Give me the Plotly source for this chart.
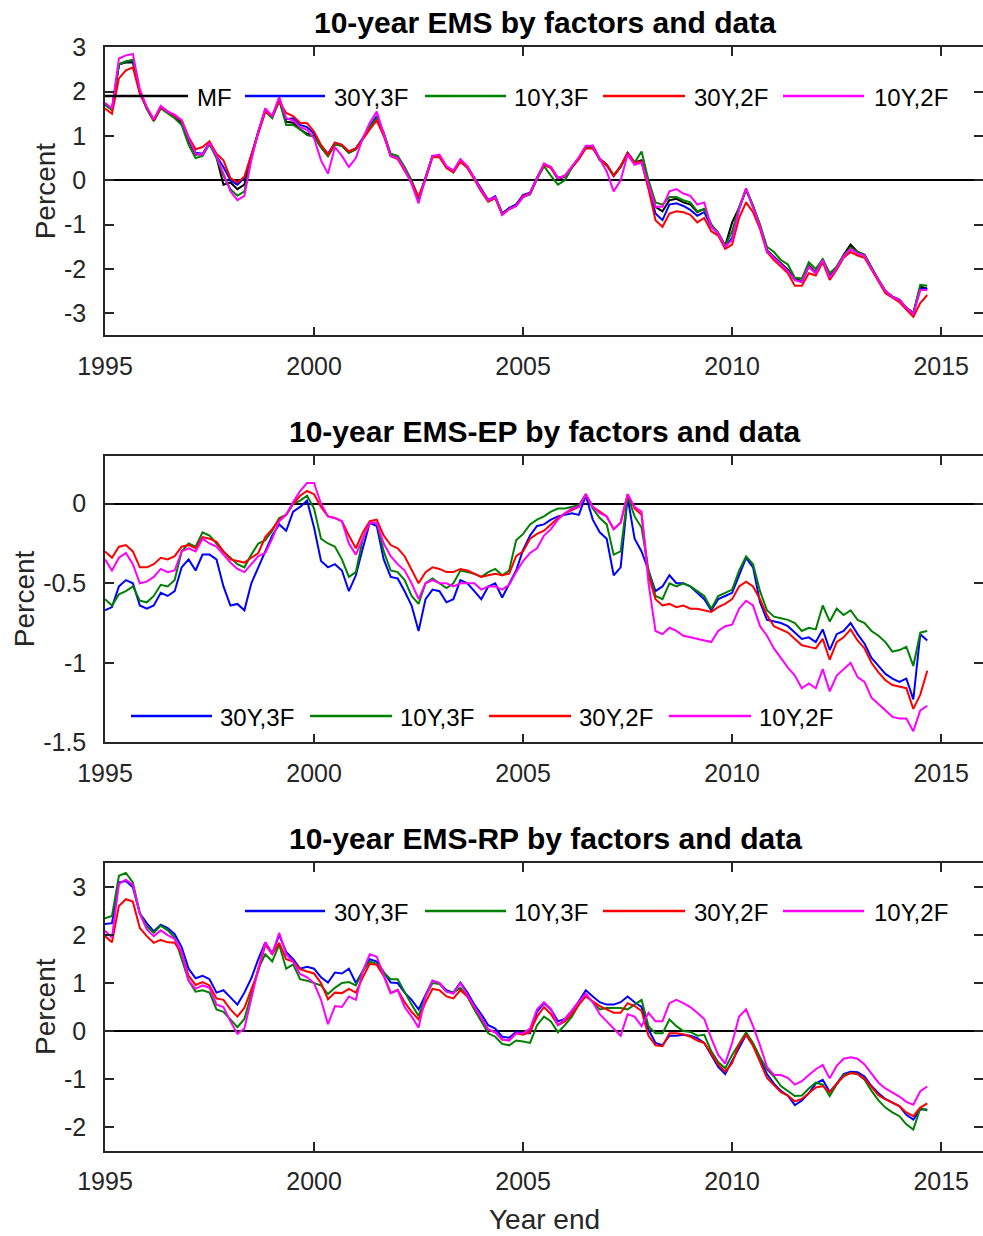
import plotly.graph_objects as go

W, H = 983, 1236

# Decimal-year sample dates, every two months from Jan 1995 to Sep 2014
T = [1995 + k / 6 for k in range(119)]

# ---------- 10-year EMS ----------
ems_mf = [1.72, 1.60, 2.62, 2.66, 2.66, 2.00,
          1.62, 1.35, 1.65, 1.55, 1.45, 1.30,
          0.90, 0.58, 0.58, 0.83, 0.52, -0.10,
          -0.05, -0.20, -0.10, 0.55, 1.10, 1.58,
          1.43, 1.82, 1.32, 1.30, 1.15, 1.05,
          1.00, 0.75, 0.55, 0.82, 0.78, 0.62,
          0.70, 0.95, 1.20, 1.42, 1.05, 0.55,
          0.50, 0.28, -0.05, -0.42, 0.05, 0.55,
          0.55, 0.30, 0.20, 0.45, 0.30, 0.05,
          -0.22, -0.45, -0.38, -0.75, -0.63, -0.55,
          -0.35, -0.30, 0.05, 0.35, 0.28, 0.03,
          0.08, 0.30, 0.50, 0.75, 0.75, 0.48,
          0.35, 0.10, 0.30, 0.62, 0.40, 0.45,
          -0.12, -0.60, -0.70, -0.45, -0.42, -0.50,
          -0.55, -0.72, -0.65, -1.00, -1.20, -1.48,
          -0.95, -0.62, -0.20, -0.58, -1.02, -1.58,
          -1.72, -1.88, -2.02, -2.22, -2.28, -1.92,
          -2.08, -1.78, -2.18, -1.96, -1.68, -1.45,
          -1.62, -1.68, -1.98, -2.25, -2.50, -2.63,
          -2.70, -2.88, -3.00, -2.40, -2.45]
ems_30y3f = [1.72, 1.60, 2.62, 2.68, 2.70, 2.00,
             1.63, 1.35, 1.65, 1.55, 1.45, 1.35,
             0.95, 0.62, 0.60, 0.85, 0.55, 0.30,
             0.00, -0.10, 0.05, 0.58, 1.12, 1.60,
             1.45, 1.85, 1.38, 1.40, 1.25, 1.20,
             1.05, 0.78, 0.60, 0.85, 0.80, 0.65,
             0.72, 0.95, 1.22, 1.45, 1.05, 0.55,
             0.50, 0.25, -0.05, -0.42, 0.05, 0.55,
             0.55, 0.30, 0.20, 0.45, 0.30, 0.05,
             -0.22, -0.45, -0.36, -0.75, -0.63, -0.55,
             -0.33, -0.28, 0.05, 0.35, 0.30, 0.05,
             0.10, 0.30, 0.50, 0.75, 0.78, 0.48,
             0.35, 0.10, 0.32, 0.62, 0.40, 0.42,
             -0.15, -0.75, -0.90, -0.55, -0.52, -0.58,
             -0.67, -0.80, -0.72, -1.05, -1.20, -1.50,
             -1.30, -0.65, -0.20, -0.60, -1.05, -1.60,
             -1.75, -1.90, -2.05, -2.25, -2.30, -1.95,
             -2.10, -1.80, -2.20, -1.98, -1.72, -1.55,
             -1.65, -1.70, -2.00, -2.25, -2.50, -2.63,
             -2.70, -2.88, -3.00, -2.45, -2.45]
ems_10y3f = [1.70, 1.58, 2.62, 2.68, 2.72, 2.00,
             1.60, 1.33, 1.62, 1.50, 1.40, 1.25,
             0.80, 0.50, 0.55, 0.82, 0.50, 0.10,
             -0.20, -0.35, -0.25, 0.50, 1.08, 1.55,
             1.40, 1.80, 1.25, 1.25, 1.15, 1.02,
             0.98, 0.75, 0.55, 0.80, 0.78, 0.62,
             0.70, 0.95, 1.20, 1.40, 1.08, 0.60,
             0.55, 0.30, 0.00, -0.40, 0.08, 0.55,
             0.55, 0.28, 0.18, 0.45, 0.30, 0.05,
             -0.25, -0.48, -0.40, -0.75, -0.65, -0.58,
             -0.38, -0.32, 0.02, 0.32, 0.10, -0.10,
             0.00, 0.28, 0.48, 0.75, 0.75, 0.45,
             0.33, 0.12, 0.30, 0.58, 0.40, 0.65,
             0.00, -0.50, -0.55, -0.38, -0.38, -0.45,
             -0.50, -0.70, -0.65, -1.00, -1.18, -1.48,
             -1.15, -0.60, -0.22, -0.58, -1.00, -1.50,
             -1.62, -1.80, -1.90, -2.20, -2.22, -1.85,
             -2.00, -1.78, -2.10, -1.95, -1.70, -1.52,
             -1.62, -1.68, -1.98, -2.25, -2.50, -2.63,
             -2.70, -2.88, -3.00, -2.36, -2.38]
ems_30y2f = [1.62, 1.50, 2.30, 2.48, 2.55, 1.95,
             1.65, 1.35, 1.65, 1.55, 1.45, 1.35,
             0.98, 0.70, 0.75, 0.88, 0.60, 0.45,
             0.05, -0.05, 0.08, 0.58, 1.10, 1.55,
             1.45, 1.78, 1.52, 1.45, 1.30, 1.29,
             1.10, 0.80, 0.58, 0.85, 0.80, 0.65,
             0.72, 0.92, 1.15, 1.35, 1.00, 0.55,
             0.48, 0.22, -0.05, -0.37, 0.02, 0.52,
             0.52, 0.28, 0.18, 0.42, 0.28, 0.02,
             -0.25, -0.48, -0.40, -0.78, -0.65, -0.58,
             -0.35, -0.30, 0.05, 0.35, 0.28, 0.05,
             0.10, 0.30, 0.48, 0.72, 0.72, 0.48,
             0.35, 0.10, 0.32, 0.62, 0.40, 0.42,
             -0.20, -0.90, -1.05, -0.75, -0.70, -0.72,
             -0.78, -0.95, -0.85, -1.15, -1.25, -1.55,
             -1.45, -0.85, -0.50, -0.72, -1.10, -1.62,
             -1.80, -1.95, -2.10, -2.38, -2.38, -2.10,
             -2.15, -1.85, -2.25, -2.02, -1.75, -1.62,
             -1.70, -1.75, -2.02, -2.30, -2.55, -2.65,
             -2.75, -2.92, -3.08, -2.77, -2.59]
ems_10y2f = [1.75, 1.62, 2.75, 2.82, 2.85, 2.05,
             1.65, 1.38, 1.68, 1.55, 1.48, 1.35,
             0.95, 0.60, 0.58, 0.85, 0.55, 0.15,
             -0.25, -0.45, -0.35, 0.45, 1.10, 1.62,
             1.45, 1.88, 1.40, 1.35, 1.20, 1.14,
             0.95, 0.45, 0.15, 0.75, 0.55, 0.30,
             0.50, 0.95, 1.30, 1.55, 1.05, 0.55,
             0.50, 0.25, -0.08, -0.52, 0.05, 0.55,
             0.58, 0.32, 0.22, 0.48, 0.32, 0.05,
             -0.22, -0.45, -0.38, -0.78, -0.65, -0.58,
             -0.38, -0.30, 0.05, 0.38, 0.30, 0.05,
             0.10, 0.30, 0.52, 0.78, 0.78, 0.48,
             0.20, -0.25, 0.00, 0.58, 0.35, 0.40,
             -0.10, -0.60, -0.60, -0.25, -0.20, -0.30,
             -0.35, -0.55, -0.50, -1.05, -1.20, -1.50,
             -1.35, -0.65, -0.18, -0.60, -1.05, -1.60,
             -1.75, -1.90, -2.05, -2.25, -2.30, -1.95,
             -2.10, -1.80, -2.20, -1.98, -1.72, -1.55,
             -1.65, -1.70, -2.00, -2.25, -2.50, -2.63,
             -2.70, -2.88, -3.02, -2.48, -2.48]

# ---------- 10-year EMS-EP ----------
ep_30y3f = [-0.67, -0.65, -0.52, -0.48, -0.50, -0.64,
            -0.66, -0.64, -0.56, -0.58, -0.55, -0.40,
            -0.35, -0.42, -0.32, -0.32, -0.35, -0.52,
            -0.64, -0.63, -0.67, -0.50, -0.40, -0.30,
            -0.20, -0.13, -0.17, -0.05, -0.02, 0.02,
            -0.15, -0.36, -0.40, -0.38, -0.42, -0.55,
            -0.45, -0.28, -0.12, -0.14, -0.35, -0.46,
            -0.47, -0.55, -0.64, -0.80, -0.60, -0.54,
            -0.55, -0.62, -0.60, -0.48, -0.50, -0.55,
            -0.60, -0.52, -0.50, -0.59, -0.50, -0.42,
            -0.29, -0.20, -0.14, -0.13, -0.10, -0.08,
            -0.07, -0.06, -0.07, 0.05, -0.10, -0.18,
            -0.22, -0.45, -0.40, 0.04, -0.22, -0.30,
            -0.42, -0.55, -0.52, -0.45, -0.50, -0.50,
            -0.52, -0.56, -0.60, -0.67, -0.60, -0.58,
            -0.56, -0.45, -0.34, -0.40, -0.62, -0.73,
            -0.74, -0.75, -0.77, -0.81, -0.85, -0.84,
            -0.87, -0.79, -0.92, -0.82, -0.80, -0.75,
            -0.82, -0.88, -0.97, -1.02, -1.07, -1.10,
            -1.12, -1.10, -1.23, -0.82, -0.86]
ep_10y3f = [-0.60, -0.64, -0.57, -0.55, -0.52, -0.61,
            -0.62, -0.58, -0.51, -0.52, -0.48, -0.30,
            -0.25, -0.27, -0.18, -0.20, -0.25, -0.30,
            -0.34, -0.38, -0.40, -0.32, -0.25, -0.23,
            -0.17, -0.09, -0.07, 0.00, 0.02, 0.05,
            -0.03, -0.22, -0.25, -0.27, -0.35, -0.46,
            -0.43, -0.22, -0.12, -0.12, -0.30, -0.42,
            -0.43, -0.48, -0.58, -0.63, -0.50, -0.47,
            -0.50, -0.53, -0.50, -0.42, -0.43, -0.44,
            -0.46, -0.43, -0.41, -0.45, -0.42, -0.23,
            -0.19, -0.13, -0.10, -0.08, -0.05, -0.03,
            -0.03, -0.02, -0.01, 0.06, -0.03, -0.09,
            -0.13, -0.32, -0.30, 0.05, -0.08, -0.15,
            -0.42, -0.58, -0.60, -0.50, -0.52, -0.50,
            -0.52, -0.55, -0.58, -0.66, -0.58, -0.56,
            -0.54, -0.42, -0.33, -0.38, -0.55, -0.67,
            -0.71, -0.72, -0.73, -0.75, -0.80, -0.78,
            -0.79, -0.64, -0.74, -0.66, -0.70, -0.67,
            -0.73, -0.75, -0.80, -0.83, -0.87, -0.93,
            -0.92, -0.90, -1.02, -0.81, -0.80]
ep_30y2f = [-0.30, -0.34, -0.27, -0.26, -0.30, -0.40,
            -0.40, -0.38, -0.34, -0.35, -0.33, -0.27,
            -0.26, -0.28, -0.21, -0.22, -0.24, -0.30,
            -0.35, -0.36, -0.37, -0.34, -0.31, -0.21,
            -0.16, -0.10, -0.07, 0.00, 0.05, 0.08,
            0.06, -0.02, -0.08, -0.09, -0.11, -0.20,
            -0.28, -0.18, -0.11, -0.10, -0.20, -0.26,
            -0.28, -0.33, -0.42, -0.50, -0.43, -0.40,
            -0.41, -0.43, -0.43, -0.41, -0.42, -0.44,
            -0.46, -0.45, -0.44, -0.45, -0.44, -0.33,
            -0.30, -0.22, -0.19, -0.17, -0.13, -0.09,
            -0.06, -0.04, -0.02, 0.06, -0.02, -0.05,
            -0.08, -0.16, -0.12, 0.06, -0.03, -0.07,
            -0.45, -0.60, -0.64, -0.63, -0.65, -0.64,
            -0.66, -0.66, -0.67, -0.68, -0.65, -0.63,
            -0.60, -0.52, -0.49, -0.52, -0.60, -0.70,
            -0.77, -0.79, -0.81, -0.85, -0.89, -0.90,
            -0.91, -0.85, -0.98, -0.87, -0.84, -0.79,
            -0.86, -0.91, -1.00, -1.06, -1.11, -1.14,
            -1.15, -1.16, -1.29, -1.20, -1.05]
ep_10y2f = [-0.35, -0.42, -0.34, -0.31, -0.38, -0.50,
            -0.49, -0.46, -0.41, -0.43, -0.42, -0.30,
            -0.28, -0.30, -0.22, -0.25, -0.27, -0.32,
            -0.37, -0.41, -0.43, -0.38, -0.33, -0.31,
            -0.22, -0.11, -0.07, 0.01, 0.08, 0.13,
            0.13, 0.00, -0.08, -0.09, -0.11, -0.25,
            -0.32, -0.22, -0.12, -0.12, -0.25, -0.33,
            -0.38, -0.42, -0.50, -0.60, -0.50, -0.48,
            -0.50, -0.50, -0.52, -0.50, -0.50, -0.50,
            -0.54, -0.52, -0.52, -0.54, -0.51, -0.43,
            -0.36, -0.31, -0.28, -0.20, -0.16, -0.10,
            -0.06, -0.03, -0.02, 0.06, -0.02, -0.06,
            -0.08, -0.16, -0.12, 0.06, -0.02, -0.05,
            -0.50, -0.80, -0.82, -0.78, -0.80, -0.83,
            -0.84, -0.85, -0.86, -0.87, -0.80, -0.77,
            -0.76, -0.66, -0.61, -0.64, -0.77, -0.83,
            -0.91, -0.97, -1.03, -1.08, -1.16, -1.13,
            -1.16, -1.04, -1.18, -1.08, -1.04, -1.00,
            -1.09, -1.12, -1.22, -1.26, -1.30, -1.34,
            -1.35, -1.35, -1.43, -1.30, -1.27]

# ---------- 10-year EMS-RP ----------
rp_30y3f = [2.23, 2.25, 3.10, 3.13, 3.00, 2.45,
            2.25, 2.08, 2.22, 2.15, 2.02, 1.75,
            1.30, 1.10, 1.15, 1.08, 0.80, 0.85,
            0.70, 0.55, 0.80, 1.10, 1.50, 1.85,
            1.62, 2.00, 1.65, 1.50, 1.30, 1.34,
            1.30, 1.12, 1.01, 1.22, 1.20, 1.30,
            1.00, 1.25, 1.50, 1.45, 1.22, 1.01,
            1.00, 0.80, 0.65, 0.45, 0.75, 1.05,
            1.00, 0.85, 0.80, 1.01, 0.80, 0.55,
            0.35, 0.12, 0.05, -0.12, -0.14, -0.02,
            -0.05, -0.05, 0.40, 0.58, 0.45, 0.20,
            0.25, 0.42, 0.62, 0.85, 0.72, 0.60,
            0.55, 0.55, 0.60, 0.72, 0.60, 0.50,
            0.03, -0.25, -0.30, -0.10, -0.10, -0.08,
            -0.10, -0.15, -0.25, -0.50, -0.75, -0.90,
            -0.63, -0.33, -0.08, -0.30, -0.60, -0.90,
            -1.10, -1.25, -1.35, -1.55, -1.45, -1.30,
            -1.10, -1.02, -1.27, -1.10, -0.90, -0.85,
            -0.86, -0.95, -1.15, -1.30, -1.42, -1.50,
            -1.57, -1.75, -1.85, -1.64, -1.64]
rp_10y3f = [2.35, 2.40, 3.24, 3.30, 3.10, 2.45,
            2.18, 2.05, 2.20, 2.10, 1.95, 1.50,
            1.05, 0.82, 0.85, 0.80, 0.45, 0.40,
            0.25, 0.08, 0.25, 0.75, 1.30, 1.60,
            1.45, 1.80, 1.30, 1.39, 1.08, 1.05,
            1.00, 0.95, 0.77, 0.90, 1.00, 1.02,
            0.95, 1.25, 1.45, 1.40, 1.22, 1.08,
            1.08, 0.80, 0.55, 0.31, 0.72, 1.00,
            0.98, 0.82, 0.80, 0.90, 0.72, 0.45,
            0.20, -0.05, -0.12, -0.27, -0.30, -0.20,
            -0.22, -0.25, 0.12, 0.30, 0.20, -0.03,
            0.12, 0.30, 0.55, 0.75, 0.60, 0.45,
            0.48, 0.48, 0.48, 0.45, 0.55, 0.65,
            0.10, -0.05, -0.05, 0.24, 0.10, 0.00,
            -0.02, -0.10, -0.08, -0.42, -0.65, -0.78,
            -0.50, -0.25, -0.03, -0.25, -0.55, -0.80,
            -0.95, -1.15, -1.25, -1.36, -1.35, -1.20,
            -1.08, -1.12, -1.36, -1.12, -0.92, -0.88,
            -0.90, -1.02, -1.25, -1.45, -1.60, -1.70,
            -1.78, -1.95, -2.06, -1.61, -1.66]
rp_30y2f = [1.98, 1.85, 2.61, 2.75, 2.70, 2.15,
            1.98, 1.84, 1.90, 1.85, 1.84, 1.62,
            1.15, 0.96, 1.02, 0.95, 0.68, 0.65,
            0.45, 0.30, 0.48, 0.85, 1.25, 1.80,
            1.60, 1.84, 1.50, 1.45, 1.29, 1.24,
            1.20, 1.00, 0.66, 0.80, 0.79, 0.88,
            0.80, 1.12, 1.40, 1.38, 1.15, 0.79,
            0.86, 0.60, 0.40, 0.24, 0.60, 0.88,
            0.85, 0.72, 0.68, 0.85, 0.72, 0.50,
            0.25, 0.03, -0.03, -0.18, -0.20, -0.05,
            -0.08, -0.02, 0.30, 0.50, 0.35, 0.12,
            0.20, 0.35, 0.55, 0.72, 0.62, 0.52,
            0.45, 0.38, 0.38, 0.58, 0.52, 0.42,
            -0.10, -0.30, -0.32, -0.05, -0.05, -0.07,
            -0.12, -0.20, -0.25, -0.48, -0.70, -0.85,
            -0.67, -0.28, -0.08, -0.31, -0.65, -0.98,
            -1.13, -1.28, -1.35, -1.47, -1.42, -1.30,
            -1.18, -1.15, -1.28, -1.10, -0.95, -0.88,
            -0.90, -1.00, -1.18, -1.34, -1.43, -1.50,
            -1.57, -1.70, -1.78, -1.60, -1.51]
rp_10y2f = [2.09, 1.95, 3.07, 3.16, 3.05, 2.45,
            2.12, 1.98, 2.10, 2.00, 1.92, 1.65,
            1.05, 0.88, 0.95, 0.90, 0.55, 0.50,
            0.20, -0.06, 0.05, 0.70, 1.30, 1.85,
            1.60, 2.05, 1.60, 1.45, 1.19, 1.12,
            1.00, 0.65, 0.14, 0.52, 0.50, 0.72,
            0.65, 1.25, 1.60, 1.55, 1.15, 0.79,
            0.85, 0.50, 0.30, 0.07, 0.72, 1.05,
            1.00, 0.82, 0.78, 1.00, 0.75, 0.50,
            0.25, 0.03, -0.03, -0.18, -0.20, -0.05,
            -0.05, 0.05, 0.45, 0.60, 0.45, 0.12,
            0.25, 0.42, 0.60, 0.78, 0.60, 0.35,
            0.20, 0.05, -0.10, 0.35, 0.30, 0.10,
            0.38, 0.20, 0.20, 0.58, 0.65, 0.58,
            0.50, 0.38, 0.25, -0.15, -0.50, -0.68,
            -0.25, 0.30, 0.45, 0.10, -0.30, -0.75,
            -0.92, -0.92, -0.98, -1.12, -1.05, -0.92,
            -0.80, -0.71, -0.99, -0.73, -0.58, -0.55,
            -0.58, -0.70, -0.90, -1.08, -1.20, -1.28,
            -1.37, -1.48, -1.54, -1.26, -1.16]

NAMES = ["MF", "30Y,3F", "10Y,3F", "30Y,2F", "10Y,2F"]
COLORS = {"MF": "#000000", "30Y,3F": "#0000FF", "10Y,3F": "#008000",
          "30Y,2F": "#FF0000", "10Y,2F": "#FF00FF"}

panels = [
    {"title": "10-year EMS by factors and data",
     "series": dict(zip(NAMES, [ems_mf, ems_30y3f, ems_10y3f, ems_30y2f, ems_10y2f])),
     "yrange": [-3.5, 3], "yticks": [-3, -2, -1, 0, 1, 2, 3],
     "top": 47.4, "bottom": 335.3, "ylab_x": 45},
    {"title": "10-year EMS-EP by factors and data",
     "series": dict(zip(NAMES[1:], [ep_30y3f, ep_10y3f, ep_30y2f, ep_10y2f])),
     "yrange": [-1.5, 0.3], "yticks": [-1.5, -1, -0.5, 0],
     "top": 456.0, "bottom": 742.3, "ylab_x": 24},
    {"title": "10-year EMS-RP by factors and data",
     "series": dict(zip(NAMES[1:], [rp_30y3f, rp_10y3f, rp_30y2f, rp_10y2f])),
     "yrange": [-2.5, 3.5], "yticks": [-2, -1, 0, 1, 2, 3],
     "top": 863.3, "bottom": 1150.7, "ylab_x": 45},
]

# legend rows: (name, line x0, line x1, text x) in pixels, plus row y
legend_rows = [
    (96, [("MF", 105, 188, 195), ("30Y,3F", 245, 325, 332), ("10Y,3F", 425, 506, 512),
          ("30Y,2F", 603, 685, 692), ("10Y,2F", 783, 864, 872)]),
    (716, [("30Y,3F", 131, 212, 218), ("10Y,3F", 310, 392, 398),
           ("30Y,2F", 489, 571, 577), ("10Y,2F", 669, 751, 757)]),
    (911, [("30Y,3F", 245, 325, 332), ("10Y,3F", 425, 506, 512),
           ("30Y,2F", 603, 685, 692), ("10Y,2F", 783, 864, 872)]),
]

FONT = "Liberation Sans, Arial, Helvetica, sans-serif"
AX = "#262626"


def px_x(x):
    return x / W


def px_y(y):
    return 1 - y / H


fig = go.Figure()
layout = dict(width=W, height=H, margin=dict(l=0, r=0, t=0, b=0, pad=0),
              template="none",
              paper_bgcolor="white", plot_bgcolor="white", showlegend=False,
              font=dict(family=FONT, color=AX))
annotations = []
shapes = []
XDOM = [px_x(105), 1.0]
XTICKS = [1995, 2000, 2005, 2010, 2015]

for i, p in enumerate(panels, start=1):
    xa = "x" if i == 1 else f"x{i}"
    ya = "y" if i == 1 else f"y{i}"
    for name, vals in p["series"].items():
        fig.add_trace(go.Scatter(x=T, y=vals, mode="lines", name=name,
                                 line=dict(color=COLORS[name], width=2),
                                 xaxis=xa, yaxis=ya, hoverinfo="skip"))
    common = dict(showline=True, linecolor=AX, linewidth=1.5, mirror="ticks",
                  ticks="inside", ticklen=9, tickwidth=1.5, tickcolor=AX,
                  showgrid=False, automargin=False,
                  tickfont=dict(family=FONT, size=25, color=AX))
    layout["xaxis" if i == 1 else f"xaxis{i}"] = dict(
        common, domain=XDOM, range=[1995, 2016], anchor=ya,
        tickvals=XTICKS, ticktext=[str(t) for t in XTICKS],
        zeroline=False, ticklabelstandoff=8)
    layout["yaxis" if i == 1 else f"yaxis{i}"] = dict(
        common, domain=[px_y(p["bottom"]), px_y(p["top"])], range=p["yrange"],
        anchor=xa, tickvals=p["yticks"],
        ticktext=[f"{v:g}" for v in p["yticks"]],
        zeroline=True, zerolinecolor="black", zerolinewidth=1.5,
        ticklabelstandoff=12)
    annotations.append(dict(text=f"<b>{p['title']}</b>", xref="paper", yref="paper",
                            x=px_x(545), y=px_y(p["top"] - 25), xanchor="center",
                            yanchor="middle", showarrow=False,
                            font=dict(family=FONT, size=30, color="black")))
    annotations.append(dict(text="Percent", textangle=-90, xref="paper", yref="paper",
                            x=px_x(p["ylab_x"]), y=px_y((p["top"] + p["bottom"]) / 2),
                            xanchor="center", yanchor="middle", showarrow=False,
                            font=dict(family=FONT, size=28, color=AX)))

for row_y, items in legend_rows:
    for name, x0, x1, tx in items:
        shapes.append(dict(type="line", xref="paper", yref="paper",
                           x0=px_x(x0), x1=px_x(x1), y0=px_y(row_y), y1=px_y(row_y),
                           line=dict(color=COLORS[name], width=2.5), layer="above"))
        annotations.append(dict(text=name, xref="paper", yref="paper",
                                x=px_x(tx), y=px_y(row_y + 1), xanchor="left",
                                yanchor="middle", showarrow=False,
                                font=dict(family=FONT, size=24, color="black")))

annotations.append(dict(text="Year end", xref="paper", yref="paper",
                        x=px_x(544), y=px_y(1219), xanchor="center", yanchor="middle",
                        showarrow=False, font=dict(family=FONT, size=28, color=AX)))

layout["annotations"] = annotations
layout["shapes"] = shapes
fig.update_layout(**layout)
fig.write_html("out.html")
